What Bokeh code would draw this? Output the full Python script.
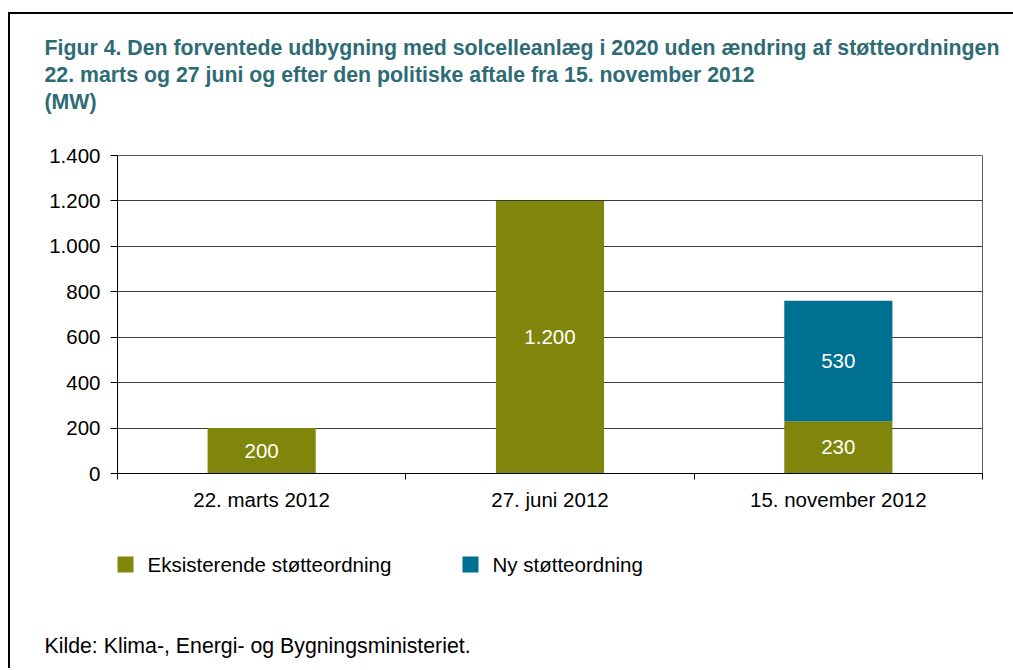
from bokeh.plotting import figure
from bokeh.layouts import column
from bokeh.models import (ColumnDataSource, FixedTicker, LabelSet,
                          CustomJSTickFormatter, Range1d)
from bokeh.embed import file_html
from bokeh.resources import INLINE
from bokeh.core.properties import value

categories = ["22. marts 2012", "27. juni 2012", "15. november 2012"]
eksisterende = [200, 1200, 230]
ny = [0, 0, 530]
series_names = ["Eksisterende støtteordning", "Ny støtteordning"]
y_ticks = [0, 200, 400, 600, 800, 1000, 1200, 1400]
title_lines = ["Figur 4. Den forventede udbygning med solcelleanlæg i 2020 uden ændring af støtteordningen",
               "22. marts og 27 juni og efter den politiske aftale fra 15. november 2012",
               "(MW)"]
source_text = "Kilde:  Klima-, Energi- og Bygningsministeriet."

OLIVE = "#80850B"
TEAL = "#007092"
TITLE_C = "#2D6B75"
FONT = "Liberation Sans"
FS = "20.5px"
W = 1003


def no_align(f):
    if "frame_align" in f.properties():
        f.frame_align = False
    return f


def blank(h):
    f = figure(width=W, height=h, output_backend="svg", toolbar_location=None,
               x_range=Range1d(0, W), y_range=Range1d(0, h),
               min_border=0, min_border_left=0, min_border_right=0,
               min_border_top=0, min_border_bottom=0)
    f.axis.visible = False
    f.grid.visible = False
    f.outline_line_color = None
    return no_align(f)


# ---- title panel ----
H0 = 126
p0 = blank(H0)
p0.text(x=[34] * 3, y=[H0 - 33, H0 - 60, H0 - 87], text=title_lines,
        text_font=value(FONT), text_font_size="21.3px", text_font_style="bold",
        text_color=TITLE_C, text_baseline="middle", text_align="left")

# ---- chart ----
xs = [i + 0.5 for i in range(len(categories))]
tops_new = [a + b for a, b in zip(eksisterende, ny)]
src = ColumnDataSource(dict(
    x=xs, eks=eksisterende, ny=ny, top_new=tops_new,
    eks_mid=[v / 2 for v in eksisterende],
    ny_mid=[a + b / 2 for a, b in zip(eksisterende, ny)],
    eks_lbl=["{:,}".format(v).replace(",", ".") for v in eksisterende],
    ny_lbl=["{:,}".format(v).replace(",", ".") if v else "" for v in ny],
))

p = figure(width=W, height=380, output_backend="svg", toolbar_location=None,
           x_range=Range1d(0, 3), y_range=Range1d(0, 1400),
           min_border_left=107, min_border_right=31, min_border_top=15,
           min_border_bottom=47)
no_align(p)

p.vbar(x="x", bottom=0, top="eks", width=0.375, source=src,
       fill_color=OLIVE, line_color=None)
p.vbar(x="x", bottom="eks", top="top_new", width=0.375, source=src,
       fill_color=TEAL, line_color=None)

for ycol, tcol in (("eks_mid", "eks_lbl"), ("ny_mid", "ny_lbl")):
    p.add_layout(LabelSet(x="x", y=ycol, text=tcol, source=src, text_color="white",
                          text_align="center", text_baseline="middle",
                          text_font=value(FONT), text_font_size=FS))

p.xaxis.ticker = FixedTicker(ticks=xs, minor_ticks=[0, 1, 2, 3])
p.xaxis.major_label_overrides = {x: c for x, c in zip(xs, categories)}
p.xaxis.major_tick_line_color = None
p.xaxis.minor_tick_out = 6
p.xaxis.minor_tick_in = 0
p.xaxis.minor_tick_line_color = "black"
p.xaxis.major_label_standoff = 8

p.yaxis.ticker = FixedTicker(ticks=y_ticks)
p.yaxis.formatter = CustomJSTickFormatter(code="return tick.toLocaleString('en-US').replace(/,/g, '.');")
p.yaxis.major_tick_out = 7
p.yaxis.major_tick_in = 0
p.yaxis.minor_tick_line_color = None
p.yaxis.major_label_standoff = 10

for ax in (p.xaxis[0], p.yaxis[0]):
    ax.axis_line_color = "black"
    ax.axis_line_width = 1
    ax.major_label_text_font = FONT
    ax.major_label_text_font_size = FS
    ax.major_label_text_color = "black"

p.xgrid.grid_line_color = None
p.ygrid.ticker = FixedTicker(ticks=y_ticks[1:])
p.ygrid.grid_line_color = "#3a3a3a"
p.ygrid.grid_line_width = 1
p.outline_line_color = "#606060"
p.outline_line_width = 1

# ---- legend + source panel ----
H2 = 148
p2 = blank(H2)
leg_colors = [OLIVE, TEAL]
leg_sq_x = [115, 460]
leg_y = H2 - 44
p2.rect(x=leg_sq_x, y=[leg_y] * 2, width=16, height=16,
        fill_color=leg_colors, line_color=None)
p2.text(x=[sx + 22 for sx in leg_sq_x], y=[leg_y] * 2, text=series_names,
        text_font=value(FONT), text_font_size=FS, text_color="black",
        text_baseline="middle", text_align="left")
p2.text(x=[34], y=[H2 - 125], text=[source_text], text_font=value(FONT),
        text_font_size="21.3px", text_color="black", text_baseline="middle",
        text_align="left")

layout = column(p0, p, p2, spacing=0)
layout.styles = {"border-left": "2px solid black", "border-top": "2px solid black",
                 "margin-left": "8px", "margin-top": "12px"}

open("out.html", "w").write(file_html(layout, INLINE))
